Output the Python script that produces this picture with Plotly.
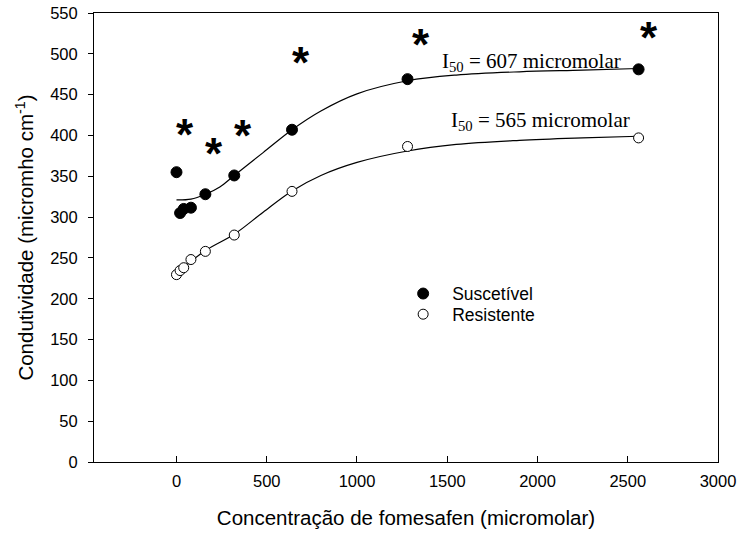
import plotly.graph_objects as go

# ---- data ----
conc = [0, 20, 40, 80, 160, 320, 640, 1280, 2560]
suscetivel = [355, 305, 310, 311.5, 328, 351, 407, 469, 481]
resistente = [229.5, 234.5, 238, 248, 258, 278, 331.5, 386.5, 397]

fit_s_x = [0, 80, 160, 240, 320, 480, 640, 800, 1000, 1280, 1550, 1900, 2250, 2560]
fit_s_y = [321, 322, 328, 337, 351, 379, 407, 430, 451, 467, 474, 478, 480, 482]
fit_r_x = [0, 160, 320, 480, 640, 800, 1000, 1280, 1550, 1900, 2250, 2560]
fit_r_y = [231, 259, 279, 306, 332, 351, 367, 381, 389, 394, 397, 399]

ast_x = [46, 207, 369, 689, 1353, 2620]
ast_y = [410, 387, 408.5, 498.5, 520, 528]

i50_labels = ["I<sub>50</sub> = 607 micromolar", "I<sub>50</sub> = 565 micromolar"]
i50_x = [1968, 2014]
i50_y = [490, 418]

x_ticks = [0, 500, 1000, 1500, 2000, 2500, 3000]
y_ticks = [0, 50, 100, 150, 200, 250, 300, 350, 400, 450, 500, 550]

SANS = "Liberation Sans, Arial, sans-serif"
SERIF = "Liberation Serif, Times New Roman, serif"

fig = go.Figure()

fig.add_trace(go.Scatter(x=fit_s_x, y=fit_s_y, mode="lines", line=dict(color="black", width=1.2, shape="spline"),
                         showlegend=False, hoverinfo="skip"))
fig.add_trace(go.Scatter(x=fit_r_x, y=fit_r_y, mode="lines", line=dict(color="black", width=1.2, shape="spline"),
                         showlegend=False, hoverinfo="skip"))
fig.add_trace(go.Scatter(x=conc, y=suscetivel, mode="markers", name="Suscetível", legend="legend",
                         marker=dict(symbol="circle", size=11, color="black", line=dict(color="black", width=1))))
fig.add_trace(go.Scatter(x=conc, y=resistente, mode="markers", name="Resistente", legend="legend2",
                         marker=dict(symbol="circle", size=10, color="white", line=dict(color="black", width=1))))

for ax, ay in zip(ast_x, ast_y):
    fig.add_annotation(x=ax, y=ay, text="<b>*</b>", showarrow=False, xanchor="center", yanchor="middle",
                       yshift=-7, font=dict(family=SANS, size=44, color="black"))

for t, tx, ty in zip(i50_labels, i50_x, i50_y):
    fig.add_annotation(x=tx, y=ty, text=t, showarrow=False, xanchor="center", yanchor="middle",
                       font=dict(family=SERIF, size=21, color="black"))

leg_common = dict(xanchor="left", yanchor="top", bgcolor="rgba(0,0,0,0)",
                  font=dict(family=SANS, size=17.5, color="black"), itemwidth=48)

fig.update_layout(
    width=738, height=535,
    margin=dict(l=94, r=20, t=13, b=73),
    paper_bgcolor="white", plot_bgcolor="white",
    font=dict(family=SANS, size=16.5, color="black"),
    legend=dict(x=0.481, y=0.415, **leg_common),
    legend2=dict(x=0.481, y=0.369, **leg_common),
    xaxis=dict(range=[-457, 3000], tickvals=x_ticks, ticks="inside", ticklen=6, tickcolor="black",
               showline=True, linecolor="black", linewidth=1, mirror=True, showgrid=False, zeroline=False,
               ticklabelstandoff=4, automargin=False,
               title=dict(text="Concentração de fomesafen (micromolar)", font=dict(size=20.5), standoff=21)),
    yaxis=dict(range=[0, 550], tickvals=y_ticks, ticks="outside", ticklen=5, tickcolor="black",
               showline=True, linecolor="black", linewidth=1, mirror=True, showgrid=False, zeroline=False,
               ticklabelstandoff=7, automargin=False,
               title=dict(text="Condutividade (micromho cm<sup>-1</sup>)", font=dict(size=20.5), standoff=10)),
)

fig.write_html("out.html", config={"displayModeBar": False},
               post_script="document.body.style.margin='0';")
